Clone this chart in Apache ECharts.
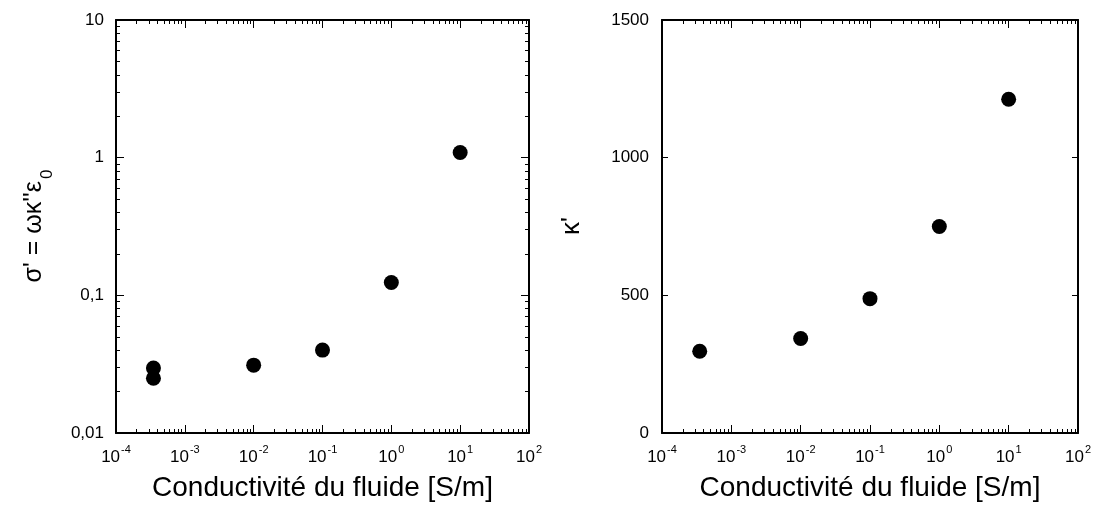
<!DOCTYPE html>
<html>
<head>
<meta charset="utf-8">
<script src="https://cdn.jsdelivr.net/npm/echarts@6/dist/echarts.min.js"></script>
<style>
html,body{margin:0;padding:0;background:#fff;}
#chart{width:1094px;height:507px;}
</style>
</head>
<body>
<div id="chart"></div>
<script>
// ---- data ----
const conductivityLeft = [3.5e-4, 3.5e-4, 1e-2, 1e-1, 1, 10];
const sigmaValues = [0.0296, 0.0250, 0.0311, 0.0400, 0.124, 1.09];
const conductivityRight = [3.5e-4, 1e-2, 1e-1, 1, 10];
const kappaValues = [297, 343, 488, 750, 1212];
const xTickExponents = [-4, -3, -2, -1, 0, 1, 2];
const leftYTickExponents = [-2, -1, 0, 1];
const leftYTickLabels = ['0,01', '0,1', '1', '10'];
const rightYTicks = [0, 500, 1000, 1500];
const xTitle = 'Conductivité du fluide [S/m]';

const FONT = '"Liberation Sans", Arial, sans-serif';
const decades = e => e.map(v => Math.pow(10, v));
function minorTicks(exps) {
  const out = [];
  for (let i = 0; i < exps.length - 1; i++) {
    for (let m = 2; m <= 9; m++) out.push(m * Math.pow(10, exps[i]));
  }
  return out;
}
const xMajor = decades(xTickExponents);
const xMinor = minorTicks(xTickExponents);
const yMajorL = decades(leftYTickExponents);
const yMinorL = minorTicks(leftYTickExponents);

const lineStyle = {color: '#000', width: 2};

function logX(grid, pos, major, withLabel) {
  const ax = {
    type: 'log', logBase: 10, gridIndex: grid, position: pos,
    min: 1e-4, max: 100,
    splitLine: {show: false},
    axisLine: {show: major, onZero: false, lineStyle: lineStyle},
    axisTick: {show: true, inside: true, length: major ? 8 : 4,
      customValues: major ? xMajor : xMinor,
      lineStyle: {color: '#000', width: 1}},
    axisLabel: {show: false}
  };
  if (withLabel) {
    ax.axisLabel = {
      show: true, customValues: xMajor, margin: 11,
      formatter: v => '{b|10}{s|' + Math.round(Math.log10(v)) + '}',
      rich: {
        b: {fontSize: 17, fontFamily: FONT, color: '#000', lineHeight: 22, verticalAlign: 'bottom'},
        s: {fontSize: 11, fontFamily: FONT, color: '#000', lineHeight: 22, verticalAlign: 'top', padding: [0, 0, 0, 1]}
      }
    };
    ax.name = xTitle;
    ax.nameLocation = 'middle';
    ax.nameGap = 41;
    ax.nameTextStyle = {fontSize: 28, fontFamily: FONT, color: '#000'};
  }
  return ax;
}
function logY(grid, pos, major, withLabel) {
  const ax = {
    type: 'log', logBase: 10, gridIndex: grid, position: pos,
    min: 0.01, max: 10,
    splitLine: {show: false},
    axisLine: {show: major, onZero: false, lineStyle: lineStyle},
    axisTick: {show: true, inside: true, length: major ? 8 : 4,
      customValues: major ? yMajorL : yMinorL,
      lineStyle: {color: '#000', width: 1}},
    axisLabel: {show: false}
  };
  if (withLabel) {
    ax.axisLabel = {
      show: true, customValues: yMajorL, margin: 12,
      fontSize: 17, fontFamily: FONT, color: '#000',
      formatter: v => leftYTickLabels[leftYTickExponents.indexOf(Math.round(Math.log10(v)))]
    };
  }
  return ax;
}
function linY(grid, pos, withLabel) {
  return {
    type: 'value', gridIndex: grid, position: pos,
    min: 0, max: 1500, interval: 500,
    splitLine: {show: false},
    axisLine: {show: true, onZero: false, lineStyle: lineStyle},
    axisTick: {show: true, inside: true, length: 6, lineStyle: {color: '#000', width: 1}},
    axisLabel: {show: withLabel, margin: 13, fontSize: 17, fontFamily: FONT, color: '#000',
      customValues: rightYTicks, formatter: v => String(v)}
  };
}

const option = {
  backgroundColor: '#fff',
  animation: false,
  grid: [
    {left: 116, top: 20, width: 413, height: 414},
    {left: 662, top: 20, width: 416, height: 413}
  ],
  xAxis: [
    logX(0, 'bottom', true, true),
    logX(0, 'bottom', false, false),
    logX(0, 'top', true, false),
    logX(0, 'top', false, false),
    logX(1, 'bottom', true, true),
    logX(1, 'bottom', false, false),
    logX(1, 'top', true, false),
    logX(1, 'top', false, false)
  ],
  yAxis: [
    logY(0, 'left', true, true),
    logY(0, 'left', false, false),
    logY(0, 'right', true, false),
    logY(0, 'right', false, false),
    linY(1, 'left', true),
    linY(1, 'right', false)
  ],
  graphic: [
    {type: 'text', x: 34, y: 226, rotation: Math.PI / 2,
      style: {text: "σ' = ωκ''ε{sub|0}", fontSize: 25, fontFamily: FONT, fill: '#000',
        align: 'center', verticalAlign: 'middle',
        rich: {sub: {fontSize: 17, fontFamily: FONT, fill: '#000', verticalAlign: 'bottom', padding: [0, 0, -9, 2]}}}},
    {type: 'text', x: 572, y: 226, rotation: Math.PI / 2,
      style: {text: "κ'", fontSize: 26, fontFamily: FONT, fill: '#000',
        align: 'center', verticalAlign: 'middle'}}
  ],
  series: [
    {type: 'scatter', xAxisIndex: 0, yAxisIndex: 0, symbol: 'circle', symbolSize: 15,
      itemStyle: {color: '#000', opacity: 1},
      data: conductivityLeft.map((x, i) => [x, sigmaValues[i]])},
    {type: 'scatter', xAxisIndex: 4, yAxisIndex: 4, symbol: 'circle', symbolSize: 15,
      itemStyle: {color: '#000', opacity: 1},
      data: conductivityRight.map((x, i) => [x, kappaValues[i]])}
  ]
};
const chart = echarts.init(document.getElementById('chart'), null, {renderer: 'canvas'});
chart.setOption(option);
</script>
</body>
</html>
